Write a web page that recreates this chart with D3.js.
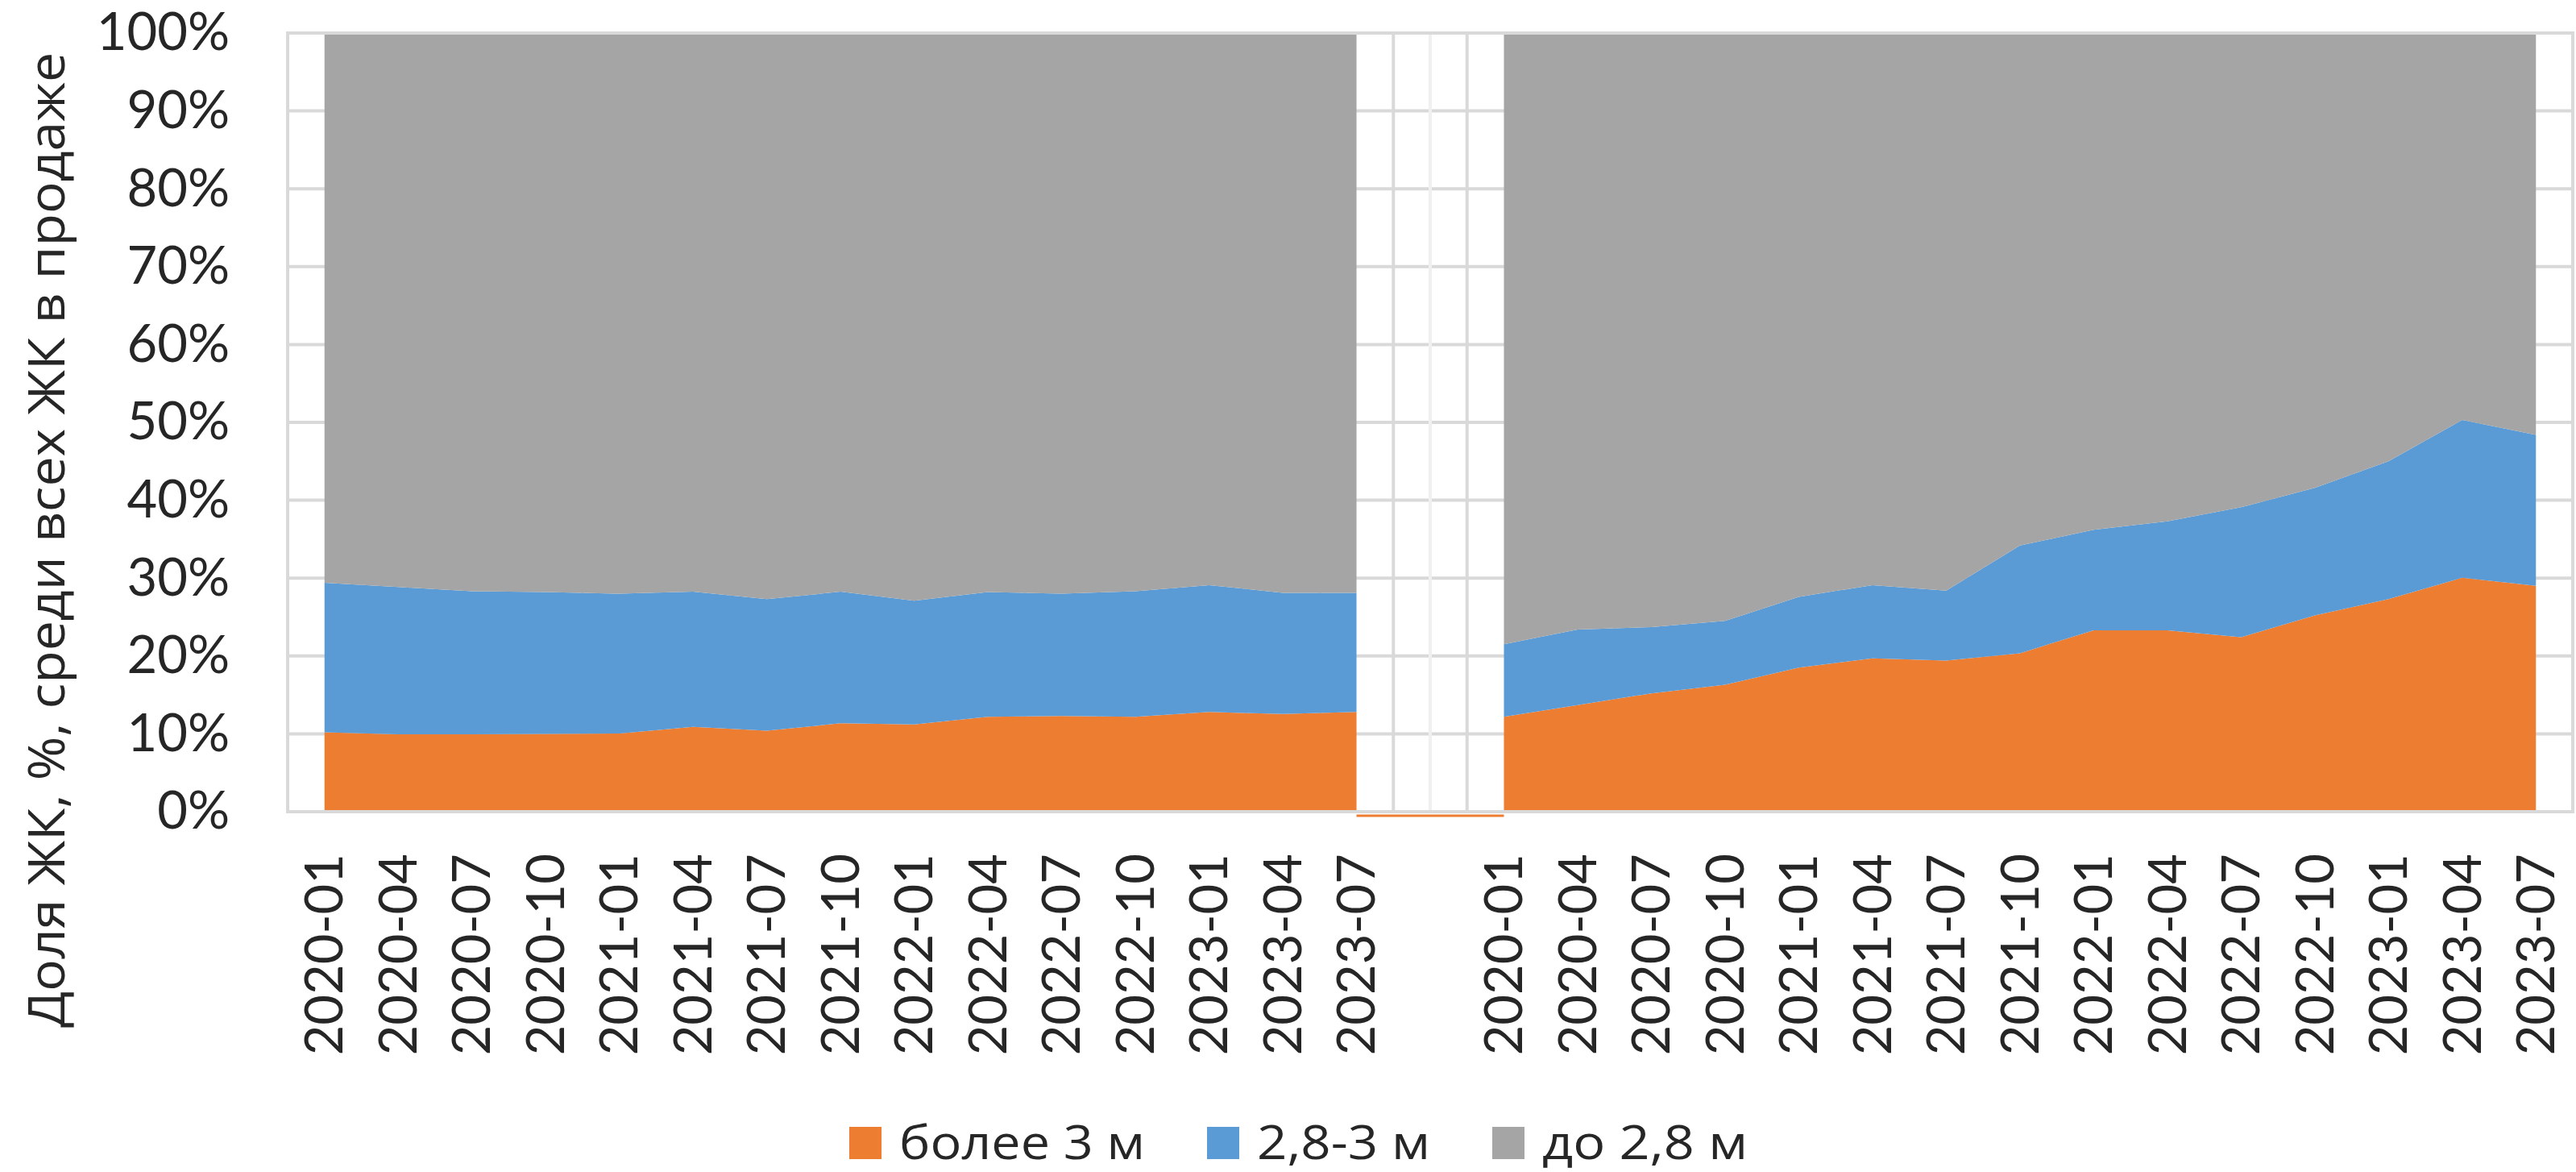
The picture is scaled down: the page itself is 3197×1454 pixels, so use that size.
<!DOCTYPE html>
<html><head><meta charset="utf-8">
<script src="https://cdn.jsdelivr.net/npm/d3@7"></script>
<style>html,body{margin:0;padding:0;background:#fff;} svg{display:block}</style>
</head><body><svg id="chart" width="3197" height="1454"></svg>
<script>
// ---- data ----
const categories = [
  "2020-01","2020-04","2020-07","2020-10","2021-01","2021-04","2021-07","2021-10",
  "2022-01","2022-04","2022-07","2022-10","2023-01","2023-04","2023-07",
  "",
  "2020-01","2020-04","2020-07","2020-10","2021-01","2021-04","2021-07","2021-10",
  "2022-01","2022-04","2022-07","2022-10","2023-01","2023-04","2023-07"
];
const seriesNames = ["более 3 м", "2,8-3 м", "до 2,8 м"];
const over3m = [
  10.2, 9.95, 9.95, 10.0, 10.05, 10.9, 10.4, 11.35, 11.2, 12.2, 12.3, 12.2, 12.8, 12.55, 12.8,
  null,
  12.2, 13.7, 15.2, 16.3, 18.5, 19.7, 19.4, 20.35, 23.3, 23.3, 22.4, 25.2, 27.3, 30.05, 29.0
];
const from28to3m = [
  19.2, 18.9, 18.35, 18.2, 17.95, 17.35, 16.9, 16.9, 15.9, 16.0, 15.7, 16.1, 16.3, 15.55, 15.3,
  null,
  9.3, 9.7, 8.5, 8.2, 9.1, 9.4, 9.0, 13.85, 12.9, 14.0, 16.7, 16.4, 17.7, 20.25, 19.4
];
const upTo28m = [
  70.6, 71.15, 71.7, 71.8, 72.0, 71.75, 72.7, 71.75, 72.9, 71.8, 72.0, 71.7, 70.9, 71.9, 71.9,
  null,
  78.5, 76.6, 76.3, 75.5, 72.4, 70.9, 71.6, 65.8, 63.8, 62.7, 60.9, 58.4, 55.0, 49.7, 51.6
];
const yTicks = [0, 10, 20, 30, 40, 50, 60, 70, 80, 90, 100];
const colors = ["#ED7D31", "#5B9BD5", "#A5A5A5"];
const yTitle = "Доля ЖК, %, среди всех ЖК в продаже";

// ---- layout ----
const svg = d3.select("#chart");
const pL = 357, pR = 3193, pT = 41, pB = 1007;
const gridColor = "#d9d9d9";
const textColor = "#262626";
const tickFont = "Lato, 'Open Sans', sans-serif";
const textFont = "'Open Sans', 'Noto Sans', sans-serif";

const x = d3.scaleBand().domain(d3.range(categories.length)).range([pL, pR]).paddingInner(0).paddingOuter(0);
const y = d3.scaleLinear().domain([0, 100]).range([pB, pT]);
const cx = i => x(i) + x.bandwidth() / 2;

// gridlines
const grid = svg.append("g");
grid.selectAll("line").data(yTicks).join("line")
  .attr("x1", pL).attr("x2", pR)
  .attr("y1", d => y(d)).attr("y2", d => y(d))
  .attr("stroke", gridColor).attr("stroke-width", 4);
const vg = svg.append("g");
vg.selectAll("line").data(d3.range(categories.length + 1)).join("line")
  .attr("x1", i => pL + i * x.step()).attr("x2", i => pL + i * x.step())
  .attr("y1", pT).attr("y2", pB)
  .attr("stroke", gridColor).attr("stroke-width", 4);
// light centre line in the empty category
const gapIdx = d3.range(categories.length).filter(i => over3m[i] === null);
const cg = svg.append("g");
cg.selectAll("line").data(gapIdx).join("line")
  .attr("x1", i => cx(i)).attr("x2", i => cx(i))
  .attr("y1", pT).attr("y2", pB)
  .attr("stroke", "#f0f0f0").attr("stroke-width", 4);

// stacked areas
const rows = categories.map((c, i) => ({
  i,
  defined: over3m[i] !== null,
  [seriesNames[0]]: over3m[i] ?? 0,
  [seriesNames[1]]: from28to3m[i] ?? 0,
  [seriesNames[2]]: upTo28m[i] ?? 0
}));
const stacked = d3.stack().keys(seriesNames)(rows);
const area = d3.area()
  .defined(d => d.data.defined)
  .x(d => cx(d.data.i))
  .y0(d => y(d[0]))
  .y1(d => y(d[1]));
svg.append("g").selectAll("path").data(stacked).join("path")
  .attr("d", area)
  .attr("fill", (d, k) => colors[k]);

// orange zero line across the empty category
svg.append("line")
  .attr("x1", cx(gapIdx[0] - 1)).attr("x2", cx(gapIdx[gapIdx.length - 1] + 1))
  .attr("y1", y(0) + 5).attr("y2", y(0) + 5)
  .attr("stroke", colors[0]).attr("stroke-width", 3);

// plot border
svg.append("rect")
  .attr("x", pL).attr("y", pT).attr("width", pR - pL).attr("height", pB - pT)
  .attr("fill", "none").attr("stroke", gridColor).attr("stroke-width", 4);

// y axis
const yAxis = svg.append("g").attr("transform", `translate(${pL},0)`)
  .call(d3.axisLeft(y).tickValues(yTicks).tickFormat(d => d + "%").tickSize(0).tickPadding(72));
yAxis.select(".domain").remove();
yAxis.selectAll("text").attr("font-family", tickFont).attr("font-size", 65).attr("fill", textColor);

// x axis
const xAxis = svg.append("g").attr("transform", `translate(0,${pB})`)
  .call(d3.axisBottom(x).tickFormat(i => categories[i]).tickSize(0));
xAxis.select(".domain").remove();
xAxis.selectAll("text")
  .attr("y", 0).attr("x", -52).attr("dy", "0.35em")
  .attr("transform", "rotate(-90)")
  .style("text-anchor", "end")
  .attr("font-family", tickFont).attr("font-size", 65).attr("fill", textColor);

// y title
svg.append("text")
  .attr("transform", "translate(80,670) rotate(-90)")
  .attr("text-anchor", "middle")
  .attr("font-family", textFont).attr("font-size", 62).attr("fill", textColor)
  .attr("textLength", 1210).attr("lengthAdjust", "spacingAndGlyphs")
  .text(yTitle);

// legend
const legend = svg.append("g");
const sq = 40, sqGap = 22, itemGap = 77, legendStart = 1054, legendBase = 1438;
const legendTextLen = [305, 215, 255];
const items = legend.selectAll("g").data(seriesNames).join("g");
items.append("rect").attr("width", sq).attr("height", sq).attr("y", legendBase - sq)
  .attr("fill", (d, k) => colors[k]);
items.append("text").attr("x", sq + sqGap).attr("y", legendBase)
  .attr("font-family", textFont).attr("font-size", 58).attr("fill", textColor)
  .attr("textLength", (d, k) => legendTextLen[k]).attr("lengthAdjust", "spacingAndGlyphs")
  .text(d => d);
let pos = legendStart;
items.attr("transform", (d, k) => { const t = `translate(${pos},0)`; pos += sq + sqGap + legendTextLen[k] + itemGap; return t; });
</script>
</body></html>
